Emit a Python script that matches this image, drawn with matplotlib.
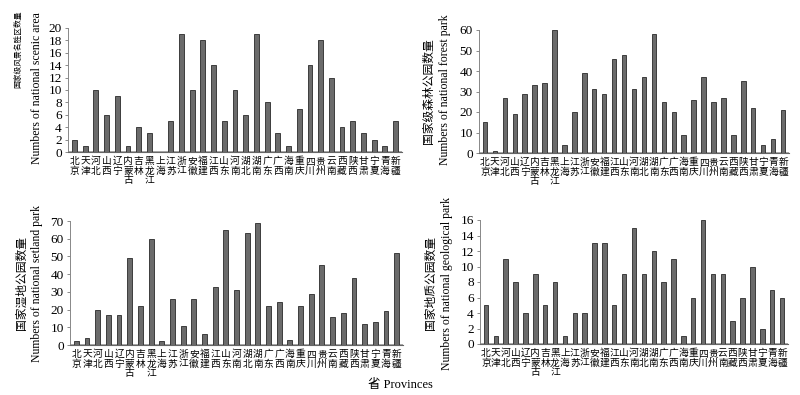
# -*- coding: utf-8 -*
import numpy as np
import matplotlib
matplotlib.use('Agg')
from matplotlib import pyplot as plt

plt.rcParams['font.family'] = ['Liberation Serif', 'Noto Sans CJK SC']

provinces = ['北京', '天津', '河北', '山西', '辽宁', '内蒙古', '吉林', '黑龙江', '上海', '江苏',
             '浙江', '安徽', '福建', '江西', '山东', '河南', '湖北', '湖南', '广东', '广西',
             '海南', '重庆', '四川', '贵州', '云南', '西藏', '陕西', '甘肃', '宁夏', '青海', '新疆']

scenic = [2, 1, 10, 6, 9, 1, 4, 3, 0, 5, 19, 10, 18, 14, 5, 10, 6, 19, 8, 3,
          1, 7, 14, 18, 12, 4, 5, 3, 2, 1, 5]
forest = [15, 1, 27, 19, 29, 33, 34, 60, 4, 20, 39, 31, 29, 46, 48, 31, 37, 58, 25, 20,
          9, 26, 37, 25, 27, 9, 35, 22, 4, 7, 21]
wetland = [2, 4, 20, 17, 17, 49, 22, 60, 2, 26, 11, 26, 6, 33, 65, 31, 63, 69, 22, 24,
           3, 22, 29, 45, 16, 18, 38, 12, 13, 19, 52]
geological = [5, 1, 11, 8, 4, 9, 5, 8, 1, 4, 4, 13, 13, 5, 9, 15, 9, 12, 8, 11,
              1, 6, 16, 9, 9, 3, 6, 10, 2, 7, 6]

W, H = 800, 395
fig = plt.figure(figsize=(W / 100, H / 100), dpi=100)

def px_axes(x0, x1, ytop, ybot):
    return fig.add_axes([x0 / W, 1 - ybot / H, (x1 - x0) / W, (ybot - ytop) / H])

panels = [
    # data, ymax, step, axes box, cn label, en label, cn pos, en pos, cn size
    (scenic, 20, 2, (68, 402, 28, 152), '国家级风景名胜区数量', 'Numbers of national scenic area',
     (18, 11, 'top'), (37, 12, 'top'), 5.6),
    (forest, 60, 10, (479, 789, 30, 153), '国家级森林公园数量', 'Numbers of national forest park',
     (429, 91, 'center'), (445, 90, 'center'), 8.5),
    (wetland, 70, 10, (70, 403, 221, 345), '国家湿地公园数量', 'Numbers of national setland park',
     (22, 283, 'center'), (37, 283, 'center'), 8.5),
    (geological, 16, 2, (480, 788, 220, 344), '国家地质公园数量', 'Numbers of national geological park',
     (431, 283, 'center'), (447, 283, 'center'), 8.5),
]

x = np.arange(len(provinces))
for data, ymax, step, box, cn, en, cnpos, enpos, cnsize in panels:
    ax = px_axes(*box)
    ax.bar(x, data, width=0.45, color='#6b6b6b', edgecolor='#2a2a2a', linewidth=0.6, zorder=3)
    ax.set_xlim(-0.6, len(provinces) - 0.4)
    ax.set_ylim(0, ymax)
    ax.set_yticks(np.arange(0, ymax + 1, step))
    ax.set_xticks(x)
    ax.set_xticklabels(['\n'.join(p) for p in provinces], fontsize=7,
                       linespacing=0.95, va='top', family=['Noto Sans CJK SC'])
    ax.tick_params(axis='x', length=0, pad=3)
    ax.tick_params(axis='y', length=2.5, width=0.6, color='#777777', pad=2, labelsize=9.5)
    for s in ['top', 'right']:
        ax.spines[s].set_visible(False)
    ax.spines['left'].set_color('#888888')
    ax.spines['left'].set_linewidth(0.7)
    ax.spines['bottom'].set_color('#666666')
    ax.spines['bottom'].set_linewidth(0.8)
    ax.axhline(ymax * 0.012, color='#999999', linewidth=0.6, zorder=2)
    fig.text(cnpos[0] / W, 1 - cnpos[1] / H, cn, rotation=90, fontsize=cnsize,
             ha='center', va=cnpos[2])
    fig.text(enpos[0] / W, 1 - enpos[1] / H, en, rotation=90, fontsize=8.5,
             ha='center', va=enpos[2])

fig.text(400 / W, 1 - 385 / H, '省 Provinces', fontsize=9, ha='center', va='center')

fig.savefig('out.png', dpi=100)
